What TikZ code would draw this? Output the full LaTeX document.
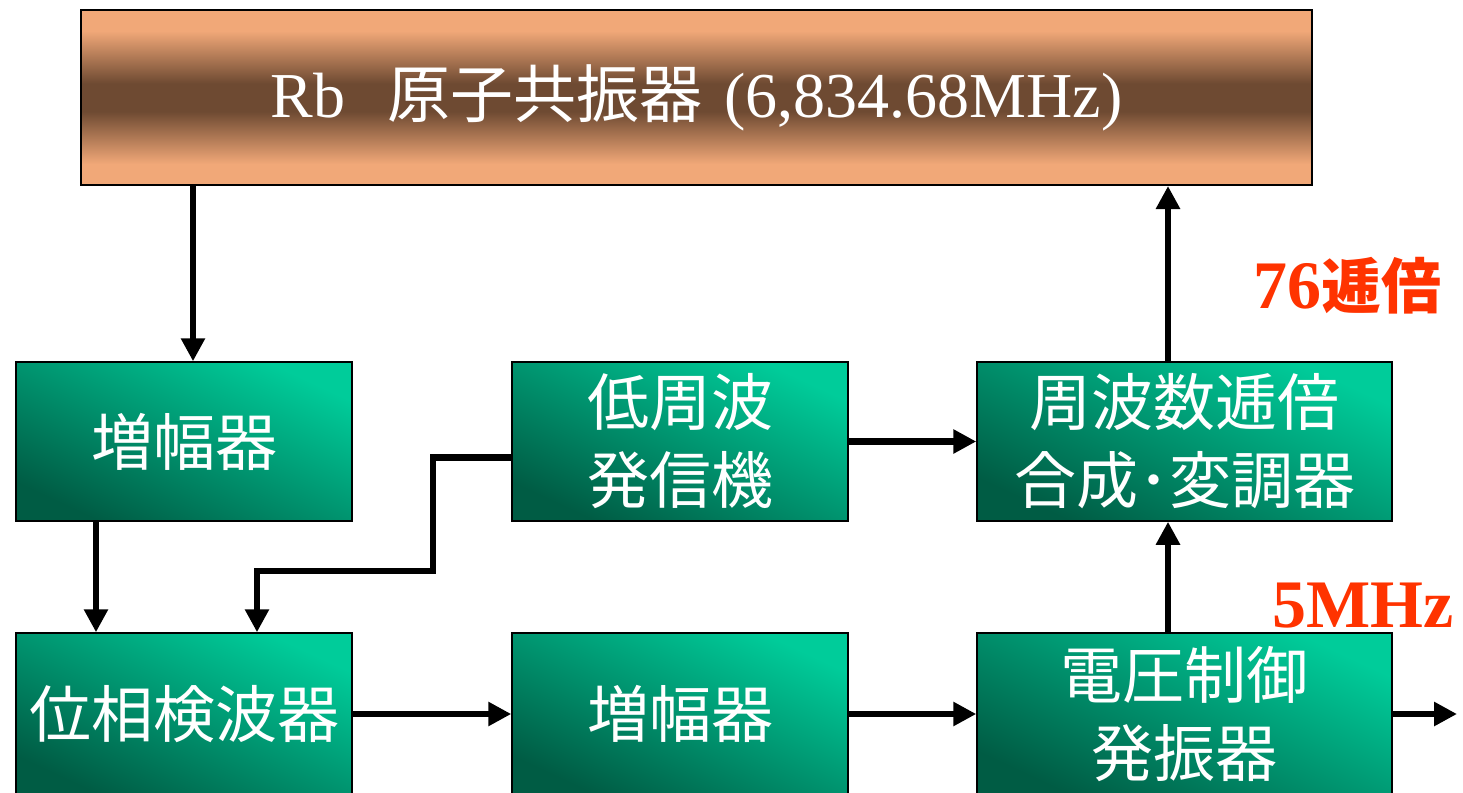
\documentclass[tikz,border=0pt]{standalone}
\usepackage{fontspec}
\setmainfont{Liberation Serif}
\newfontfamily\cjk{Noto Sans CJK JP}
\usetikzlibrary{arrows.meta}
\definecolor{gL}{RGB}{0,204,154}
\definecolor{gD}{RGB}{0,92,68}
\definecolor{cuL}{RGB}{241,168,120}
\definecolor{cuD}{RGB}{110,74,50}
\definecolor{lblred}{RGB}{255,51,0}
\pgfdeclareverticalshading{copper}{100bp}{color(0bp)=(cuL); color(25bp)=(cuL); color(31bp)=(cuL); color(46bp)=(cuD); color(54bp)=(cuD); color(69bp)=(cuL); color(75bp)=(cuL); color(100bp)=(cuL)}
\begin{document}
\begin{tikzpicture}[x=1pt,y=-1pt,
  gbox/.style={draw=black, line width=1.5pt, top color=gL, bottom color=gD, shading angle=-25,
    text=white, font=\cjk\fontsize{62}{78}\selectfont, align=center, inner sep=0pt,
    minimum width=336pt, minimum height=159pt},
  topbox/.style={draw=black, line width=2pt, shade, shading=copper, inner sep=0pt,
    minimum width=1231pt, minimum height=175pt, text=white, font=\fontsize{64}{70}\selectfont},
  arr/.style={line width=6.5pt, -{Triangle[length=23pt,width=23pt]}},
  redlbl/.style={text=lblred, inner sep=0pt, anchor=base west, font=\bfseries\fontsize{68}{70}\selectfont}]
\useasboundingbox (0,0) rectangle (1463,792);
\clip (0,0) rectangle (1463,792);
\fill[white] (0,0) rectangle (1463,792);

\node[topbox] (top) at (696.5,97.5) {\raisebox{-3pt}{Rb\hspace{42pt}{\cjk\fontsize{63}{70}\selectfont 原子共振器}\hspace{22pt}(6,834.68MHz)}};

\node[gbox] (amp1) at (184,441.5) {増幅器};
\node[gbox] (lfo) at (680,441.5) {低周波\\発信機};
\node[gbox, minimum width=415pt] (syn) at (1184.5,441.5) {周波数逓倍\\合成･変調器};
\node[gbox, minimum height=162pt] (pd) at (184,714) {位相検波器};
\node[gbox, minimum height=162pt] (amp2) at (680,714) {増幅器};
\node[gbox, minimum width=415pt, minimum height=162pt] (vco) at (1184.5,714) {電圧制御\\発振器};

\node[redlbl] (l76) at (1253,308) {76{\cjk\bfseries\fontsize{60}{70}\selectfont 逓倍}};
\node[redlbl] (l5) at (1272,627) {5MHz};

\coordinate (bend) at (433,571);
\coordinate (out) at (1457,714);

\draw[arr] ([xshift=9pt]amp1.north |- top.south) -- ([xshift=9pt]amp1.north);
\draw[arr] ([xshift=-88pt]amp1.south) -- ([xshift=-88pt]pd.north);
\draw[arr] ([yshift=-16pt]lfo.west) -| (bend) -| ([xshift=73pt]pd.north);
\draw[arr] (lfo.east) -- (syn.west);
\draw[arr] ([xshift=-16.5pt]syn.north) -- ([xshift=-16.5pt]syn.north |- top.south);
\draw[arr] ([xshift=-16.5pt]vco.north) -- ([xshift=-16.5pt]syn.south);
\draw[arr] (pd.east) -- (amp2.west);
\draw[arr] (amp2.east) -- (vco.west);
\draw[arr] (vco.east) -- (out);
\end{tikzpicture}
\end{document}
